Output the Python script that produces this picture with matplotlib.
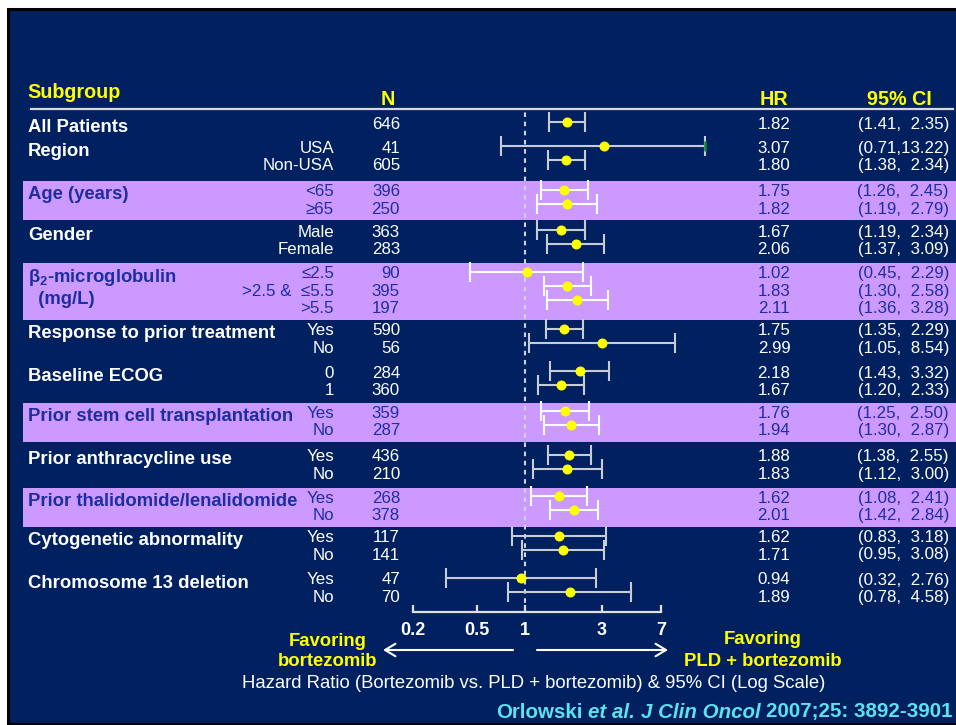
import matplotlib
matplotlib.use("Agg")
import matplotlib.pyplot as plt
from matplotlib.patches import Rectangle
from matplotlib.ticker import NullLocator

plt.rcParams["font.family"] = ["Liberation Sans", "DejaVu Sans"]
plt.rcParams["mathtext.fontset"] = "custom"
plt.rcParams["mathtext.rm"] = "Liberation Sans"
plt.rcParams["mathtext.bf"] = "Liberation Sans:bold"

# ---------------------------------------------------------------- data
groups = [
    "All Patients",
    "Region",
    "Age (years)",
    "Gender",
    "β$_\\mathbf{2}$-microglobulin\n  (mg/L)",
    "Response to prior treatment",
    "Baseline ECOG",
    "Prior stem cell transplantation",
    "Prior anthracycline use",
    "Prior thalidomide/lenalidomide",
    "Cytogenetic abnormality",
    "Chromosome 13 deletion",
]
levels = [
    [""],
    ["USA", "Non-USA"],
    ["<65", "≥65"],
    ["Male", "Female"],
    ["≤2.5", ">2.5 &  ≤5.5", ">5.5"],
    ["Yes", "No"],
    ["0", "1"],
    ["Yes", "No"],
    ["Yes", "No"],
    ["Yes", "No"],
    ["Yes", "No"],
    ["Yes", "No"],
]
n_patients = [
    [646], [41, 605], [396, 250], [363, 283], [90, 395, 197], [590, 56],
    [284, 360], [359, 287], [436, 210], [268, 378], [117, 141], [47, 70],
]
hazard_ratio = [
    [1.82], [3.07, 1.80], [1.75, 1.82], [1.67, 2.06], [1.02, 1.83, 2.11],
    [1.75, 2.99], [2.18, 1.67], [1.76, 1.94], [1.88, 1.83], [1.62, 2.01],
    [1.62, 1.71], [0.94, 1.89],
]
ci_low = [
    [1.41], [0.71, 1.38], [1.26, 1.19], [1.19, 1.37], [0.45, 1.30, 1.36],
    [1.35, 1.05], [1.43, 1.20], [1.25, 1.30], [1.38, 1.12], [1.08, 1.42],
    [0.83, 0.95], [0.32, 0.78],
]
ci_high = [
    [2.35], [13.22, 2.34], [2.45, 2.79], [2.34, 3.09], [2.29, 2.58, 3.28],
    [2.29, 8.54], [3.32, 2.33], [2.50, 2.87], [2.55, 3.00], [2.41, 2.84],
    [3.18, 3.08], [2.76, 4.58],
]
shaded_groups = {2, 4, 7, 9}
x_ticks = [0.2, 0.5, 1, 3, 7]
x_tick_labels = ["0.2", "0.5", "1", "3", "7"]
panel_edge = 10  # upper limits at or beyond this get a truncation cap

# ---------------------------------------------------------------- style
NAVY = "#002060"
PURPLE = "#CC99FF"
BAND_TEXT = "#1F2E9E"
YELLOW = "#FFFF00"
CITE = "#5CE1EE"
LINE_GREY = "#c8ccd4"

group_top = [124, 148, 191.5, 232, 273.5, 330.5, 373, 413, 456.5, 498, 537.5, 580]
TEXT_STEP = 17.5
PT_STEP = 14
PT_SHIFT = -2

LABEL_SIZE = 13.3
VALUE_SIZE = 12.2
HEAD_SIZE = 14.2

fig = plt.figure(figsize=(9.56, 7.25), dpi=100, facecolor="white")
ax = fig.add_axes([0, 0, 1, 1])
ax.set_xlim(0, 956)
ax.set_ylim(725, 0)
ax.axis("off")

ax.add_patch(Rectangle((8.5, 8.5), 1000, 715, facecolor=NAVY,
                       edgecolor="black", lw=2.2, zorder=0))

# column headers
ax.text(27, 92, "Subgroup", color=YELLOW, fontsize=HEAD_SIZE,
        fontweight="bold", ha="left", va="center")
ax.text(388, 99, "N", color=YELLOW, fontsize=HEAD_SIZE,
        fontweight="bold", ha="center", va="center")
ax.text(774, 99, "HR", color=YELLOW, fontsize=HEAD_SIZE,
        fontweight="bold", ha="center", va="center")
ax.text(899, 99, "95% CI", color=YELLOW, fontsize=HEAD_SIZE,
        fontweight="bold", ha="center", va="center")
ax.plot([31, 953], [108.5, 108.5], color="#d8d8d8", lw=1.6, zorder=2)

# forest panel on a log scale
fax = fig.add_axes([413 / 956, 113 / 725, 248 / 956, 504 / 725])
fax.set_xscale("log")
fax.set_xlim(x_ticks[0], x_ticks[-1])
fax.set_ylim(612, 108)
fax.patch.set_visible(False)
for side in ("top", "left", "right"):
    fax.spines[side].set_visible(False)
fax.spines["bottom"].set_color("#e0e0e0")
fax.spines["bottom"].set_linewidth(1.6)
fax.set_yticks([])
fax.set_xticks(x_ticks)
fax.xaxis.set_minor_locator(NullLocator())
fax.set_xticklabels(x_tick_labels, fontweight="bold", fontsize=13, color="white")
fax.tick_params(axis="x", direction="in", length=5, width=1.6,
                color="#e0e0e0", pad=7)
fax.axvline(1, color="#d0d4dc", lw=1.5, ls=(0, (2.2, 2.2)), zorder=1)

for g, name in enumerate(groups):
    shaded = g in shaded_groups
    txt_col = BAND_TEXT if shaded else "white"
    k = len(levels[g])
    top = group_top[g]
    if shaded:
        ax.add_patch(Rectangle((23, top - 10.5), 940,
                               TEXT_STEP * (k - 1) + 21.5,
                               facecolor=PURPLE, edgecolor="none", zorder=1))
    for li, line in enumerate(name.split("\n")):
        ax.text(28, top + 3 + 22 * li + (1 if k == 3 else 0), line,
                color=txt_col, fontsize=LABEL_SIZE, fontweight="bold",
                ha="left", va="center", zorder=3)
    for i in range(k):
        yt = top + TEXT_STEP * i
        ax.text(334, yt, levels[g][i], color=txt_col, fontsize=VALUE_SIZE,
                ha="right", va="center", zorder=3)
        ax.text(400, yt, str(n_patients[g][i]), color=txt_col,
                fontsize=VALUE_SIZE, ha="right", va="center", zorder=3)
        h = hazard_ratio[g][i]
        lo = ci_low[g][i]
        hi = ci_high[g][i]
        ax.text(774, yt, f"{h:.2f}", color=txt_col, fontsize=VALUE_SIZE,
                ha="center", va="center", zorder=3)
        gap = "" if hi >= 10 else "  "
        ax.text(949, yt, f"({lo:.2f},{gap}{hi:.2f})", color=txt_col,
                fontsize=VALUE_SIZE, ha="right", va="center", zorder=3)

        yp = top + PT_SHIFT + PT_STEP * i
        ecol = "white" if shaded else LINE_GREY
        cont = fax.errorbar(h, yp, xerr=[[h - lo], [hi - h]], fmt="o", ms=6.2,
                            mfc=YELLOW, mec=YELLOW, ecolor=ecol,
                            elinewidth=1.5, capsize=7, capthick=1.5, zorder=3)
        for art in list(cont.lines[1]) + list(cont.lines[2]):
            art.set_clip_on(False)
        cont.lines[0].set_clip_on(False)
        if hi >= panel_edge:
            fax.plot([hi], [yp], marker="|", ms=7.5, mew=1.8, color="#0a8a2a",
                     ls="none", clip_on=False, zorder=4)

# direction arrows and captions
arrow_kw = dict(arrowstyle="->,head_length=0.75,head_width=0.45",
                color="white", lw=1.5, shrinkA=0, shrinkB=0)
ax.annotate("", xy=(383, 650), xytext=(513, 650), arrowprops=arrow_kw)
ax.annotate("", xy=(668, 650), xytext=(537, 650), arrowprops=arrow_kw)
ax.text(328, 641, "Favoring", color=YELLOW, fontsize=13.3, fontweight="bold",
        ha="center", va="center")
ax.text(328, 662, "bortezomib", color=YELLOW, fontsize=13.3, fontweight="bold",
        ha="center", va="center")
ax.text(763, 640, "Favoring", color=YELLOW, fontsize=13.3, fontweight="bold",
        ha="center", va="center")
ax.text(763, 662, "PLD + bortezomib", color=YELLOW, fontsize=13.3,
        fontweight="bold", ha="center", va="center")
ax.text(534, 683,
        "Hazard Ratio (Bortezomib vs. PLD + bortezomib) & 95% CI (Log Scale)",
        color="white", fontsize=13.3, ha="center", va="center")

# reference line with mixed upright / italic runs
runs = [("Orlowski", "normal"), ("et al.", "italic"),
        ("J Clin Oncol", "italic"), ("2007;25: 3892-3901", "normal")]
renderer = fig.canvas.get_renderer()
cite_size = 14.8
pieces = [ax.text(0, 712, s, color=CITE, fontsize=cite_size, fontweight="bold",
                  fontstyle=st, ha="left", va="center") for s, st in runs]
widths = [p.get_window_extent(renderer).width for p in pieces]
space = 0.278 * cite_size * 100 / 72
x = 953 - (sum(widths) + space * (len(pieces) - 1))
for p, w in zip(pieces, widths):
    p.set_x(x)
    x += w + space

fig.savefig("out.png", dpi=100, facecolor="white")
